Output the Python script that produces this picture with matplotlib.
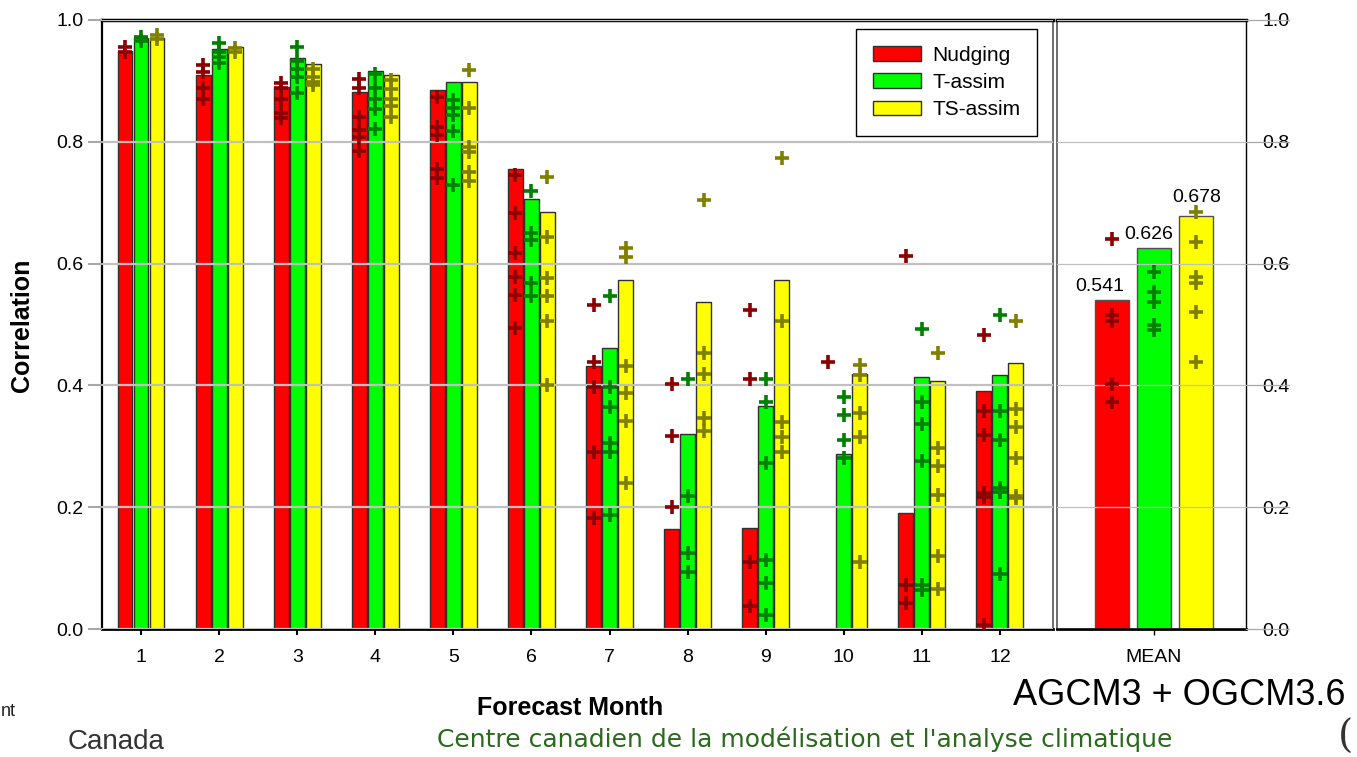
import numpy as np
import matplotlib
matplotlib.use('Agg')
import matplotlib.pyplot as plt
import matplotlib.transforms as mtransforms

plt.rcParams['font.family'] = 'Liberation Sans'

# Monthly correlations (bars)
months = [1, 2, 3, 4, 5, 6, 7, 8, 9, 10, 11, 12]
nudging = [0.949, 0.910, 0.890, 0.882, 0.885, 0.755, 0.432, 0.164, 0.166, np.nan, 0.190, 0.390]
t_assim = [0.970, 0.952, 0.937, 0.917, 0.899, 0.706, 0.461, 0.321, 0.366, 0.287, 0.413, 0.417]
ts_assim = [0.971, 0.956, 0.927, 0.909, 0.899, 0.685, 0.573, 0.537, 0.573, 0.418, 0.408, 0.436]

# Individual members (plus markers), one list per month
nudging_members = [
    [0.955, 0.948],
    [0.926, 0.915, 0.888, 0.870],
    [0.896, 0.889, 0.871, 0.847, 0.839],
    [0.903, 0.889, 0.841, 0.819, 0.808, 0.785],
    [0.873, 0.825, 0.811, 0.756, 0.740],
    [0.745, 0.683, 0.617, 0.578, 0.548, 0.494],
    [0.532, 0.438, 0.398, 0.291, 0.182],
    [0.402, 0.317, 0.201],
    [0.524, 0.410, 0.110, 0.037],
    [0.439],
    [0.612, 0.072, 0.042],
    [0.483, 0.358, 0.319, 0.223, 0.217, 0.007],
]
t_members = [
    [0.972, 0.966],
    [0.962, 0.948, 0.939, 0.930],
    [0.955, 0.932, 0.919, 0.906, 0.880],
    [0.911, 0.889, 0.870, 0.854, 0.821],
    [0.869, 0.855, 0.844, 0.817, 0.729],
    [0.719, 0.650, 0.639, 0.568, 0.546],
    [0.546, 0.398, 0.364, 0.305, 0.291, 0.187],
    [0.410, 0.219, 0.124, 0.094],
    [0.410, 0.373, 0.273, 0.113, 0.075, 0.023],
    [0.381, 0.351, 0.310, 0.281],
    [0.493, 0.372, 0.336, 0.276, 0.072, 0.064],
    [0.516, 0.358, 0.310, 0.231, 0.225, 0.091],
]
ts_members = [
    [0.976, 0.968],
    [0.954, 0.948],
    [0.920, 0.906, 0.899, 0.893],
    [0.901, 0.886, 0.870, 0.858, 0.840],
    [0.918, 0.855, 0.792, 0.784, 0.751, 0.735],
    [0.743, 0.643, 0.576, 0.546, 0.505, 0.401],
    [0.625, 0.611, 0.432, 0.388, 0.342, 0.240],
    [0.704, 0.454, 0.419, 0.346, 0.325],
    [0.773, 0.505, 0.340, 0.315, 0.290],
    [0.433, 0.417, 0.354, 0.316, 0.110],
    [0.454, 0.298, 0.268, 0.220, 0.120, 0.065],
    [0.505, 0.361, 0.331, 0.281, 0.219, 0.215],
]

# Mean over all months
mean_values = [0.541, 0.626, 0.678]
mean_members = [
    [0.640, 0.516, 0.505, 0.403, 0.373],
    [0.587, 0.554, 0.537, 0.499, 0.491],
    [0.685, 0.636, 0.578, 0.568, 0.521, 0.439],
]

series_names = ['Nudging', 'T-assim', 'TS-assim']
bar_colors = ['#ff0000', '#00ff00', '#ffff00']
marker_colors = ['#8b0000', '#008000', '#808000']
yticks = [0.0, 0.2, 0.4, 0.6, 0.8, 1.0]

W, H = 1357, 757
fig = plt.figure(figsize=(W / 100, H / 100), dpi=100)


def px_box(x0, y0, x1, y1):
    # pixel box (top-left origin) -> figure fraction rect
    return [x0 / W, 1 - y1 / H, (x1 - x0) / W, (y1 - y0) / H]


ax = fig.add_axes(px_box(102, 20, 1053, 629))
axm = fig.add_axes(px_box(1057, 20, 1246, 629))

# --- monthly panel ---
pitch = 0.205
width = 0.19
handles = []
for i, (vals, members) in enumerate(zip([nudging, t_assim, ts_assim],
                                        [nudging_members, t_members, ts_members])):
    x = np.array(months) + (i - 1) * pitch
    b = ax.bar(x, vals, width, color=bar_colors[i], edgecolor='#303030',
               linewidth=1, zorder=1, label=series_names[i])
    handles.append(b)
    for xi, mv in zip(x, members):
        ax.plot(np.full(len(mv), xi), mv, linestyle='none', marker='+',
                ms=10.5, mew=2.6, color=marker_colors[i], zorder=3)

ax.set_xlim(0.5, 12.68)
ax.set_ylim(0, 1)
ax.set_xticks(months)
ax.set_yticks(yticks)
ax.set_yticklabels([f'{v:.1f}' for v in yticks])
ax.set_axisbelow(False)
ax.grid(axis='y', color='#c0c0c0', linewidth=1.6)
ax.tick_params(axis='x', length=4.5, width=1.5, color='black', labelsize=14, pad=10)
ax.tick_params(axis='y', length=10, width=1.5, color='#a8a8a8', labelsize=14, pad=3.5)
ax.spines['top'].set_linewidth(2.5)
ax.spines['left'].set_linewidth(1.6)
ax.spines['bottom'].set_linewidth(2)
ax.spines['right'].set_color('#555555')
ax.spines['right'].set_linewidth(1.2)

ax.legend(handles=handles, loc='upper left', bbox_to_anchor=(856 / W, 1 - 29 / H),
          bbox_transform=fig.transFigure, borderaxespad=0, fancybox=False,
          edgecolor='black', framealpha=1, fontsize=15, handlelength=2.3,
          handleheight=0.72, handletextpad=0.55, labelspacing=0.4, borderpad=0.8)

# --- mean panel ---
mean_pitch = 1.0
mean_width = 0.81
label_dx = [-9, -3.5, 0.5]
label_dy = [6.5, 6.5, 10]
for i in range(3):
    xi = (i - 1) * mean_pitch
    axm.bar(xi, mean_values[i], mean_width, color=bar_colors[i],
            edgecolor='#505050', linewidth=1, zorder=1)
    mv = mean_members[i]
    axm.plot(np.full(len(mv), xi), mv, linestyle='none', marker='+',
             ms=10.5, mew=2.6, color=marker_colors[i], zorder=3)
    axm.annotate(f'{mean_values[i]:.3f}', (xi, mean_values[i]),
                 xytext=(label_dx[i], label_dy[i]), textcoords='offset points',
                 ha='center', va='baseline', fontsize=14)

axm.set_xlim(-97 / 42, 92 / 42)
axm.set_ylim(0, 1)
axm.set_xticks([0])
axm.set_xticklabels(['MEAN'])
axm.yaxis.tick_right()
axm.set_yticks(yticks)
axm.set_yticklabels([f'{v:.1f}' for v in yticks])
axm.set_axisbelow(False)
axm.grid(axis='y', color='#c0c0c0', linewidth=0.9)
axm.tick_params(axis='x', length=4.5, width=1, labelsize=14, pad=10)
axm.tick_params(axis='y', length=0, labelsize=14, pad=12)
axm.spines['top'].set_linewidth(2.5)
axm.spines['right'].set_linewidth(1)
axm.spines['left'].set_color('#555555')
axm.spines['left'].set_linewidth(1.2)
axm.spines['bottom'].set_linewidth(2)

# gray lines run past the right spine, through the tick labels
trans = mtransforms.blended_transform_factory(axm.transAxes, axm.transData)
for v in yticks:
    axm.plot([1, 1 + 43 / 189], [v, v], transform=trans, color='#a8a8a8',
             linewidth=0.9, clip_on=False, zorder=5)

# --- figure texts ---
fig.text(22 / W, 1 - 325 / H, 'Correlation', rotation=90, ha='center', va='center',
         fontsize=18, fontweight='bold')
fig.text(570 / W, 1 - 715 / H, 'Forecast Month', ha='center', va='baseline',
         fontsize=18, fontweight='bold')
fig.text(1013 / W, 1 - 705 / H, 'AGCM3 + OGCM3.6', ha='left', va='baseline',
         fontsize=26)
fig.text(68 / W, 1 - 749 / H, 'Canada', ha='left', va='baseline', fontsize=20,
         color='#333333')
fig.text(1 / W, 1 - 716 / H, 'nt', ha='left', va='baseline', fontsize=13,
         color='#222222')
fig.text(437 / W, 1 - 747 / H, "Centre canadien de la modélisation et l'analyse climatique",
         ha='left', va='baseline', fontsize=18, color='#2b6a1c', family='DejaVu Sans')
fig.text(1338 / W, 1 - 737 / H, '(', ha='left', va='center', fontsize=28,
         color='#333333', family='DejaVu Serif')

fig.savefig('out.png', dpi=100)
